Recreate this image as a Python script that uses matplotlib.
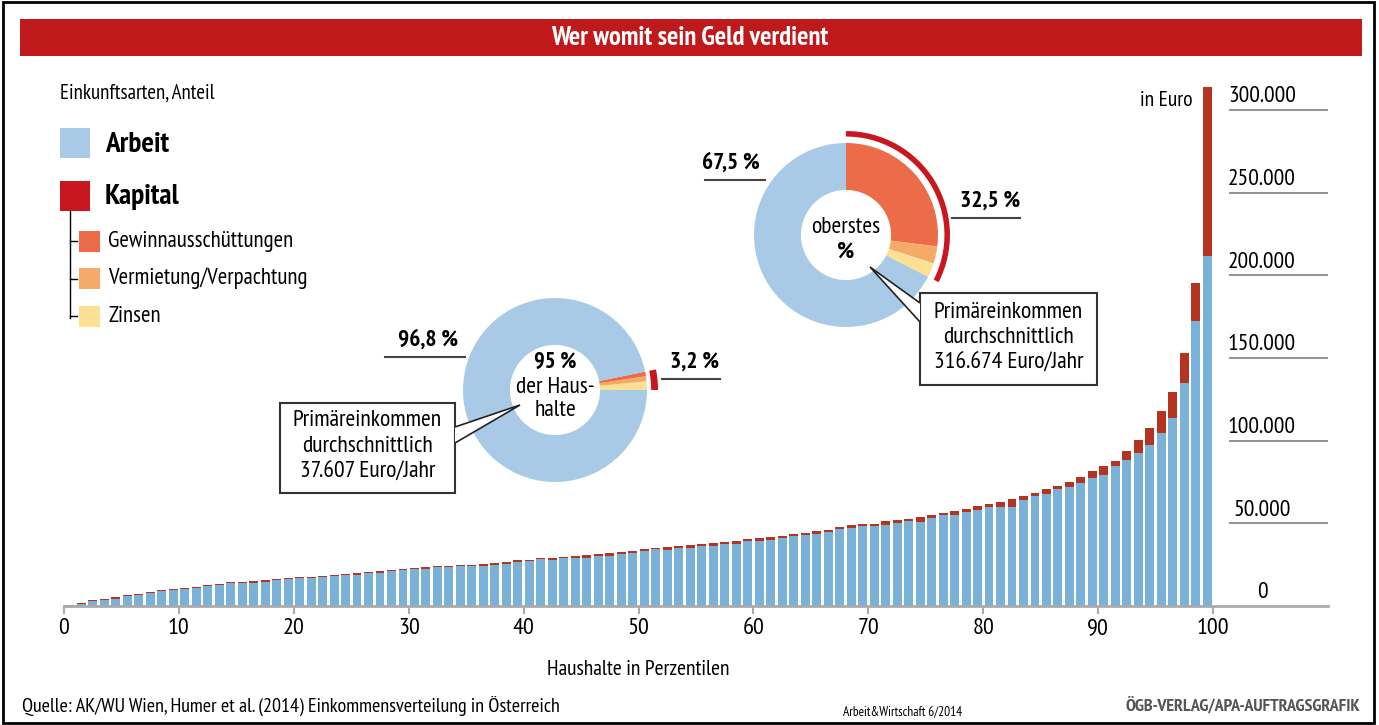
"""Wer womit sein Geld verdient - Einkommen nach Perzentilen (Arbeit vs. Kapital)."""
import matplotlib
matplotlib.use('Agg')
import matplotlib.pyplot as plt
from matplotlib import font_manager
from matplotlib.patches import Rectangle, Wedge, Polygon
import numpy as np

W, H = 1379, 725

# pick a condensed grotesque if one is installed (the original uses one)
_weights = {}
for f in font_manager.fontManager.ttflist:
    _weights.setdefault(f.name, set()).add(f.weight)
CANDIDATES = ['Liberation Sans Narrow', 'Archivo Narrow', 'PT Sans Narrow',
              'Roboto Condensed', 'Fira Sans Condensed', 'IBM Plex Sans Condensed',
              'Barlow Semi Condensed', 'Open Sans Condensed']
FONT = 'Liberation Sans'
for c in CANDIDATES:
    w = _weights.get(c, set())
    if 400 in w and 700 in w:
        FONT = c
        break
plt.rcParams['font.family'] = [FONT, 'DejaVu Sans']

# --- data ---
perzentil = np.arange(1, 101)
arbeit = [
    200, 1400, 3200, 3800, 4400, 6200, 6900, 8100, 9300, 9900,
    10500, 11100, 12300, 12900, 14100, 14100, 14100, 14700, 15900, 16500,
    17100, 17100, 17700, 18300, 19000, 19000, 20200, 20200, 21400, 22000,
    22600, 22600, 23800, 23800, 24000, 24200, 24200, 24800, 25400, 26600,
    27200, 28400, 27800, 29000, 29000, 29000, 30200, 30200, 31400, 32000,
    33300, 34500, 33900, 35100, 35100, 36300, 36300, 37500, 37500, 39300,
    39300, 39900, 41100, 42300, 42900, 43500, 44800, 46600, 47200, 48400,
    48400, 49000, 50200, 51400, 50800, 53200, 55000, 55000, 56900, 58100,
    59900, 59900, 59900, 64100, 66500, 67700, 70800, 72000, 74400, 77400,
    79200, 84700, 88300, 92500, 97400, 104600, 113700, 134900, 172400, 212000,
]
kapital = [
    600, 600, 600, 600, 1200, 700, 600, 600, 600, 600,
    600, 600, 600, 600, 600, 600, 1200, 1200, 600, 600,
    600, 600, 600, 700, 600, 1200, 600, 1200, 600, 600,
    600, 1200, 600, 600, 600, 600, 1200, 1200, 1200, 1200,
    600, 600, 1200, 600, 1200, 1800, 1200, 1800, 1200, 1300,
    1200, 600, 1800, 1200, 1800, 1200, 1800, 1200, 1800, 1200,
    1800, 1800, 1200, 1200, 1200, 1900, 1200, 1200, 1800, 1200,
    1200, 2400, 1800, 1200, 3000, 1800, 1200, 2500, 1800, 2400,
    1800, 3000, 4800, 2400, 1800, 3100, 1800, 3000, 3600, 4200,
    5500, 3000, 5400, 7900, 10300, 13300, 15700, 18100, 22800, 102000,
]
y_ticks = [0, 50000, 100000, 150000, 200000, 250000, 300000]
y_labels = ['0', '50.000', '100.000', '150.000', '200.000', '250.000', '300.000']
x_ticks = list(range(0, 101, 10))

# donut shares (%): order Gewinn, Vermietung, Zinsen
arten = ['Gewinnausschüttungen', 'Vermietung/Verpachtung', 'Zinsen']
anteil_95 = {'Arbeit': 96.8, 'Kapital': [0.8, 0.9, 1.5]}
anteil_top = {'Arbeit': 67.5, 'Kapital': [27.0, 3.0, 2.5]}

C_BAR_BLUE = '#7ab1d9'
C_BAR_RED = '#b5341f'
C_ARBEIT = '#a9cae6'
C_KAPITAL = '#c8171e'
C_ARTEN = ['#ec6c49', '#f5ab67', '#fde093']
C_TITLE = '#c0191c'

fig = plt.figure(figsize=(W / 100, H / 100), dpi=100)
fig.patch.set_facecolor('white')
renderer = fig.canvas.get_renderer()


def _width(s, size, weight='normal'):
    t = fig.text(0, 0, s, fontsize=size, fontweight=weight)
    w = t.get_window_extent(renderer).width
    t.remove()
    return w


# shrink sizes if the font is wider than the condensed original
SR = min(1.0, 70 / _width('300.000', 17))
SB = min(1.0, 60 / _width('96,8 %', 17.5, 'bold'))


def fs(size):
    return size * SR


def fb(size):
    return size * SB


def px_axes(x0, y0, x1, y1):
    """axes rectangle given in pixel coords (y from top)."""
    return [x0 / W, 1 - y1 / H, (x1 - x0) / W, (y1 - y0) / H]


# --- bar chart ---
ax = fig.add_axes(px_axes(64, 77, 1328, 606))
ax.bar(perzentil - 0.5, arbeit, width=0.78, color=C_BAR_BLUE, zorder=2)
ax.bar(perzentil - 0.5, kapital, width=0.78, bottom=arbeit, color=C_BAR_RED, zorder=2)
ax.set_xlim(0, 110)
ax.set_ylim(0, 320000)
for s in ('top', 'right', 'left'):
    ax.spines[s].set_visible(False)
ax.spines['bottom'].set_color('#aaaaaa')
ax.spines['bottom'].set_linewidth(2)
ax.set_yticks([])
ax.set_xticks(x_ticks)
ax.tick_params(axis='x', length=6, width=1.5, color='#aaaaaa', labelsize=fs(17.5), pad=3)
ax.set_xlabel('Haushalte in Perzentilen', fontsize=fs(15.5))
ax.xaxis.set_label_coords(50 / 110, -0.102)

xg0 = (1229 - 64) / 1264 * 110
xlab = (1262 - 64) / 1264 * 110
ax.hlines(y_ticks[1:], xg0, 110, color='#8a8a8a', lw=1.3)
for v, lbl in zip(y_ticks, y_labels):
    ax.annotate(lbl, (xlab, v), xytext=(0, 2), textcoords='offset points',
                ha='center', va='bottom', fontsize=fs(17))
ax.text(98.2, 306000, 'in Euro', ha='right', va='center', fontsize=fs(15.5))


# --- donuts ---
def donut(cx, cy, r_px, values, colors, start, counterclock):
    half = 1.3 * r_px
    pax = fig.add_axes(px_axes(cx - half, cy - half, cx + half, cy + half))
    pax.pie(values, colors=colors, startangle=start, counterclock=counterclock,
            radius=1.0, wedgeprops=dict(width=0.51, linewidth=0))
    pax.set_xlim(-1.3, 1.3)
    pax.set_ylim(-1.3, 1.3)
    pax.set_aspect('equal')
    pax.axis('off')
    return pax


# lower donut: 95 % der Haushalte (capital slices start at 3 o'clock, counterclockwise)
k95 = anteil_95['Kapital']
p1 = donut(555, 390, 92, list(k95[::-1]) + [anteil_95['Arbeit']],
           C_ARTEN[::-1] + [C_ARBEIT], 0, True)
p1.add_patch(Wedge((0, 0), 1.12, 0, sum(k95) * 3.6, width=0.075,
                   color=C_KAPITAL, lw=0))
p1.text(0, 0.30, '95 %', ha='center', va='center', fontsize=fb(17), fontweight='bold')
p1.text(0, 0.03, 'der Haus-', ha='center', va='center', fontsize=fs(17))
p1.text(0, -0.22, 'halte', ha='center', va='center', fontsize=fs(17))

# upper donut: oberstes Prozent (capital from 12 o'clock, clockwise)
ktop = anteil_top['Kapital']
p2 = donut(846, 235, 92, list(ktop) + [anteil_top['Arbeit']],
           C_ARTEN + [C_ARBEIT], 90, False)
p2.add_patch(Wedge((0, 0), 1.13, 90 - sum(ktop) * 3.6, 90, width=0.06,
                   color=C_KAPITAL, lw=0))
p2.text(0, 0.08, 'oberstes', ha='center', va='center', fontsize=fs(17))
p2.text(0, -0.19, '%', ha='center', va='center', fontsize=fb(18), fontweight='bold')

# --- overlay in pixel coordinates ---
ov = fig.add_axes([0, 0, 1, 1], zorder=10)
ov.set_xlim(0, W)
ov.set_ylim(H, 0)
ov.axis('off')

# frame + title bar
ov.add_patch(Rectangle((3, 2), 1371, 721, fill=False, ec='black', lw=2))
ov.add_patch(Rectangle((20, 19), 1342, 37, color=C_TITLE, lw=0))
ov.text(690, 38, 'Wer womit sein Geld verdient', color='white', fontsize=fb(20),
        fontweight='bold', ha='center', va='center')

# legend
ov.text(60, 93, 'Einkunftsarten, Anteil', fontsize=fs(15), va='center')
ov.add_patch(Rectangle((60, 128), 30, 30, color=C_ARBEIT, lw=0))
ov.text(105, 145, 'Arbeit', fontsize=fb(22), fontweight='bold', va='center')
ov.add_patch(Rectangle((60, 181), 30, 30, color=C_KAPITAL, lw=0))
ov.text(105, 197, 'Kapital', fontsize=fb(22), fontweight='bold', va='center')
ov.plot([70, 70], [211, 318], color='black', lw=1)
for i, (name, col) in enumerate(zip(arten, C_ARTEN)):
    yc = 241 + i * 37.5
    ov.plot([70, 77], [yc, yc], color='black', lw=1)
    ov.add_patch(Rectangle((79, yc - 10.5), 21, 21, color=col, lw=0))
    ov.text(108, yc, name, fontsize=fs(16.5), va='center')

# percentage labels with underline
for txt, x, y, x0, x1 in [
    (f"{anteil_95['Arbeit']:.1f} %".replace('.', ','), 398, 340, 385, 465),
    (f"{sum(k95):.1f} %".replace('.', ','), 670, 362, 662, 720),
    (f"{anteil_top['Arbeit']:.1f} %".replace('.', ','), 702, 163, 705, 765),
    (f"{sum(ktop):.1f} %".replace('.', ','), 960, 201, 952, 1020),
]:
    ov.text(x, y, txt, fontsize=fb(17.5), fontweight='bold', va='center')
    ov.plot([x0, x1], [y + 17, y + 17], color='#444444', lw=1.5)


def callout(x0, y0, x1, y1, base, tip, lines, yl):
    ov.add_patch(Rectangle((x0, y0), x1 - x0, y1 - y0, fc='white', ec='#333333', lw=1.5))
    ov.add_patch(Polygon([base[0], tip, base[1]], closed=False, fc='white',
                         ec='#222222', lw=1.2))
    for t, y in zip(lines, yl):
        ov.text((x0 + x1) / 2, y, t, fontsize=fs(17), ha='center', va='center')


callout(280, 403, 455, 493, [(455, 427), (455, 443)], (520, 405),
        ['Primäreinkommen', 'durchschnittlich', '37.607 Euro/Jahr'], [420, 446, 472])
callout(920, 293, 1097, 385, [(920, 303), (920, 322)], (870, 267),
        ['Primäreinkommen', 'durchschnittlich', '316.674 Euro/Jahr'], [312, 337, 363])

# footer
ov.text(22, 706, 'Quelle: AK/WU Wien, Humer et al. (2014) Einkommensverteilung in Österreich',
        fontsize=fs(14.5), va='center')
ov.text(843, 712, 'Arbeit&Wirtschaft 6/2014', fontsize=fs(9.5), va='center')
ov.text(1360, 706, 'ÖGB-VERLAG/APA-AUFTRAGSGRAFIK', fontsize=fb(13.5), fontweight='bold',
        color='#555555', ha='right', va='center')

fig.savefig('out.png', dpi=100)
